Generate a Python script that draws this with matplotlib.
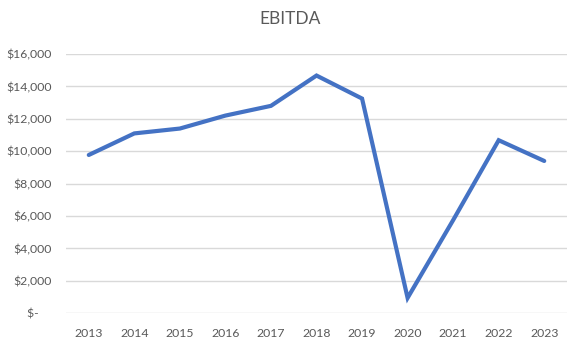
import matplotlib
matplotlib.use("Agg")
import matplotlib.pyplot as plt
from matplotlib.ticker import FuncFormatter, MultipleLocator

years = ["2013", "2014", "2015", "2016", "2017", "2018",
         "2019", "2020", "2021", "2022", "2023"]
ebitda = [9770, 11100, 11400, 12200, 12800, 14670,
          13250, 950, 5750, 10680, 9400]

text_color = "#595959"
grid_color = "#D9D9D9"
line_color = "#4472C4"

plt.rcParams["font.family"] = ["Lato", "DejaVu Sans"]


def dollars(v, pos):
    # accounting style: zero shows as a dash
    if v == 0:
        return "$-    "
    return f"${v:,.0f}"


fig = plt.figure(figsize=(5.8, 3.47), dpi=100)
ax = fig.add_axes([0.1138, 0.0971, 0.8638, 0.7473])

x = range(len(years))
ax.plot(x, ebitda, color=line_color, linewidth=3.0, solid_joinstyle="miter",
        solid_capstyle="round", zorder=3)

ax.set_xlim(-0.5, len(years) - 0.5)
ax.set_ylim(0, 16000)
ax.set_xticks(list(x))
ax.set_xticklabels(years)
ax.yaxis.set_major_locator(MultipleLocator(2000))
ax.yaxis.set_major_formatter(FuncFormatter(dollars))

ax.grid(axis="y", color=grid_color, linewidth=1.0)
ax.set_axisbelow(True)
for side in ["top", "right", "left", "bottom"]:
    ax.spines[side].set_visible(False)
ax.tick_params(axis="both", length=0, labelsize=8.8, colors=text_color)
ax.tick_params(axis="x", pad=10.5)
ax.tick_params(axis="y", pad=10.5)

fig.text(0.5, 1 - 19.5 / 347, "EBITDA", ha="center", va="center",
         fontsize=12.5, color=text_color)

fig.savefig("out.png", dpi=100)
